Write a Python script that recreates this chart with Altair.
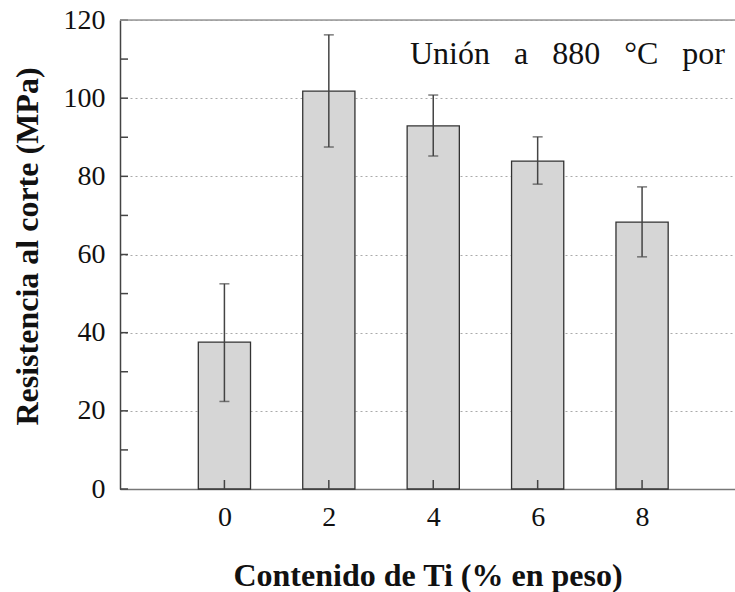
import altair as alt
import pandas as pd

ti = [0, 2, 4, 6, 8]
strength = [37.6, 101.8, 92.9, 83.9, 68.3]
err_low = [22.4, 87.5, 85.2, 78.0, 59.4]
err_high = [52.5, 116.2, 100.8, 90.1, 77.3]
y_ticks = [0, 20, 40, 60, 80, 100, 120]
y_minor = [0, 10, 20, 30, 40, 50, 60, 70, 80, 90, 100, 110, 120]
x_ticks = [0, 2, 4, 6, 8]
note = "Unión\u00a0\u00a0\u00a0a\u00a0\u00a0\u00a0880\u00a0\u00a0\u00a0°C\u00a0\u00a0\u00a0por"

FONT = "'Times New Roman', 'Liberation Serif', Times, serif"
df = pd.DataFrame({"ti": ti, "s": strength, "lo": err_low, "hi": err_high})

xs = alt.Scale(domain=[-2, 9.78], nice=False, zero=False)
ys = alt.Scale(domain=[0, 120], nice=False)

x_axis = alt.Axis(values=x_ticks, title="Contenido de Ti (% en peso)", ticks=False, tickSize=0,
                  grid=False, labelFontSize=28, labelFont=FONT, labelBaseline="alphabetic",
                  labelPadding=36, labelColor="#111", domainColor="#777", domainWidth=1.5,
                  titleFont=FONT, titleFontSize=32, titleFontWeight="bold", titleColor="#111",
                  titleY=96, titleBaseline="alphabetic", labelFlush=False)
y_axis = alt.Axis(values=y_ticks, title="Resistencia al corte (MPa)", ticks=False, tickSize=0,
                  grid=True, gridColor="#aaaaaa", gridDash=[2, 3], gridWidth=1,
                  labelFontSize=28, labelFont=FONT, labelPadding=15, labelColor="#111",
                  domainColor="#444", domainWidth=1.5,
                  titleFont=FONT, titleFontSize=32, titleFontWeight="bold", titleColor="#111",
                  titleX=-83, titleY=226, titleBaseline="alphabetic", labelFlush=False)

base = alt.Chart(df)

bars = base.transform_calculate(x0="datum.ti - 0.5", x1="datum.ti + 0.5").mark_bar(
    fill="#d6d6d6", stroke="#333333", strokeWidth=1.3
).encode(
    x=alt.X("x0:Q", scale=xs, axis=x_axis),
    x2="x1:Q",
    y=alt.Y("s:Q", scale=ys, axis=y_axis),
    y2=alt.datum(0),
)

err = base.mark_rule(color="#444444", strokeWidth=1.5).encode(
    x=alt.X("ti:Q", scale=xs), y=alt.Y("lo:Q", scale=ys), y2="hi:Q"
)
cap_lo = base.mark_tick(color="#444444", orient="horizontal", size=10, thickness=1.5).encode(
    x=alt.X("ti:Q", scale=xs), y=alt.Y("lo:Q", scale=ys)
)
cap_hi = base.mark_tick(color="#444444", orient="horizontal", size=10, thickness=1.5).encode(
    x=alt.X("ti:Q", scale=xs), y=alt.Y("hi:Q", scale=ys)
)

ymin = alt.Chart(pd.DataFrame({"v": y_minor})).mark_rule(color="#444444", strokeWidth=1.5).encode(
    y=alt.Y("v:Q", scale=ys), x=alt.value(0), x2=alt.value(8)
)
xmin = alt.Chart(pd.DataFrame({"v": x_ticks})).mark_rule(color="#444444", strokeWidth=1.5).encode(
    x=alt.X("v:Q", scale=xs), y=alt.value(469), y2=alt.value(460)
)
top = alt.Chart(pd.DataFrame({"v": [120]})).mark_rule(color="#999999", strokeWidth=1.5).encode(
    y=alt.Y("v:Q", scale=ys), x=alt.value(0), x2=alt.value(615)
)
txt = alt.Chart(pd.DataFrame({"t": [note]})).mark_text(
    font=FONT, fontSize=32, align="left", baseline="alphabetic", color="#111"
).encode(text="t:N", x=alt.value(290), y=alt.value(44))

chart = alt.layer(bars, err, cap_lo, cap_hi, ymin, xmin, top, txt).properties(
    width=615, height=469,
    autosize=alt.AutoSizeParams(type="none"),
    padding={"left": 120, "top": 20, "right": 0, "bottom": 103},
).configure_view(stroke=None).configure(background="white")

chart.save("out.html", embed_options={"renderer": "svg", "actions": False})
